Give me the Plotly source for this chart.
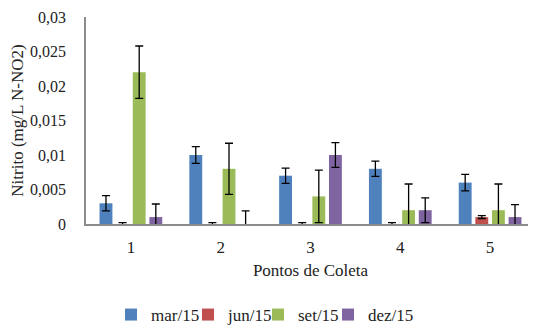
import plotly.graph_objects as go

categories = ["1", "2", "3", "4", "5"]
series_names = ["mar/15", "jun/15", "set/15", "dez/15"]
mar15 = [0.003, 0.010, 0.007, 0.008, 0.006]
jun15 = [0.0, 0.0, 0.0, 0.0, 0.001]
set15 = [0.022, 0.008, 0.004, 0.002, 0.002]
dez15 = [0.001, 0.0, 0.010, 0.002, 0.001]
mar15_err = [0.0011, 0.0012, 0.0011, 0.0011, 0.0012]
jun15_err = [0.0002, 0.0002, 0.0002, 0.0002, 0.0002]
set15_err = [0.0038, 0.0037, 0.0038, 0.0038, 0.0038]
dez15_err = [0.0019, 0.0019, 0.0018, 0.0018, 0.0018]
y_tickvals = [0, 0.005, 0.01, 0.015, 0.02, 0.025, 0.03]
y_ticktext = ["0", "0,005", "0,01", "0,015", "0,02", "0,025", "0,03"]

colors = ["#4F81BD", "#C0504D", "#9BBB59", "#8064A2"]
values = [mar15, jun15, set15, dez15]
errors = [mar15_err, jun15_err, set15_err, dez15_err]

# The page body has an 8px default margin; size the figure to fit the window.
W, H = 528, 321
FONT = "Liberation Serif"
legend_ids = ["legend", "legend2", "legend3", "legend4"]
legend_left_px = [103, 180, 250, 320]

fig = go.Figure()
for name, vals, errs, col, lid in zip(series_names, values, errors, colors, legend_ids):
    fig.add_trace(go.Bar(
        x=categories, y=vals, name=name, legend=lid,
        marker=dict(color=col, line=dict(width=0)),
        error_y=dict(type="data", array=errs, visible=True,
                     color="black", thickness=1.3, width=4),
    ))

legend_common = dict(orientation="h", xref="container", yref="container",
                     xanchor="left", y=(H - 307) / H, yanchor="middle",
                     font=dict(family=FONT, size=17), itemwidth=30,
                     bgcolor="rgba(0,0,0,0)")
legends = {lid: dict(legend_common, x=px / W) for lid, px in zip(legend_ids, legend_left_px)}

fig.update_layout(
    width=W, height=H,
    margin=dict(l=78, r=1, t=9, b=105, autoexpand=False),
    paper_bgcolor="white", plot_bgcolor="white",
    barmode="group", bargap=0.26, bargroupgap=0.225,
    font=dict(family=FONT, size=17, color="#222222"),
    separators=",.",
    showlegend=True,
    xaxis=dict(
        automargin=False,
        showline=True, linecolor="#8c8c8c", linewidth=1.5,
        ticks="outside", ticklen=7, tickcolor="rgba(0,0,0,0)",
        showgrid=False, zeroline=False,
        title=dict(text="Pontos de Coleta", standoff=8,
                   font=dict(family=FONT, size=17)),
    ),
    yaxis=dict(
        automargin=False, ticklabeloverflow="allow",
        range=[0, 0.03], tickvals=y_tickvals, ticktext=y_ticktext,
        tickfont=dict(family=FONT, size=16),
        showline=True, linecolor="#8c8c8c", linewidth=1.5,
        ticks="outside", ticklen=15, tickcolor="rgba(0,0,0,0)",
        showgrid=False, zeroline=False,
        title=dict(text="Nitrito (mg/L N-NO2)", standoff=9,
                   font=dict(family=FONT, size=17)),
    ),
    **legends,
)

fig.write_html("out.html")
